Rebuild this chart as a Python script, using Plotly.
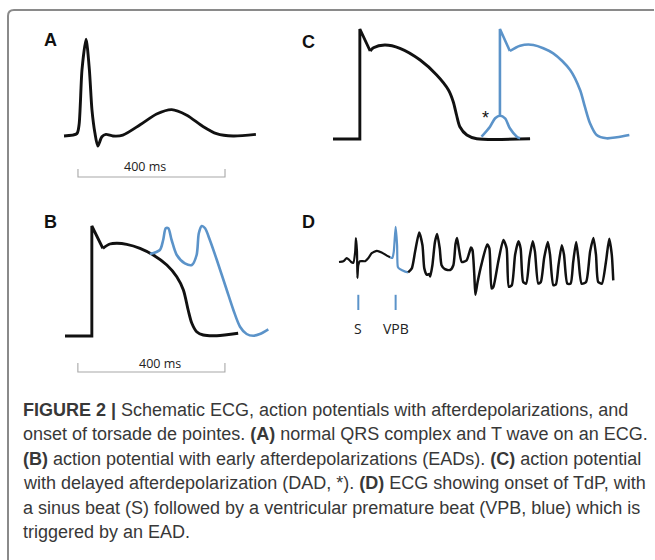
import plotly.graph_objects as go

W, H = 655, 560
BLACK = "#111111"
BLUE = "#5b93c9"
GRAY = "#a8a8a8"

# ---------------- Panel A: ECG (ms, mV) ----------------
a_t = [0, 35, 41, 49, 60, 69, 76, 84, 92, 103, 114, 133, 160, 207, 252, 293, 334, 378, 415, 460, 522]
a_v = [0, 0.03, 0.14, 0.83, 1.21, 0.83, 0.33, 0.04, -0.125, -0.01, 0.02, 0, 0.01, 0.14, 0.275, 0.33, 0.26, 0.12, 0.03, 0, 0.02]
a_bar_ms = [38, 438]

# ---------------- Panel B: AP with EADs (ms, mV) ----------------
b_up_t = [0, 73, 73, 103]
b_up_v = [-85, -85, 25, 2.7]
b_t = [103, 122, 141, 168, 204, 240, 277, 304, 322, 335, 345, 358, 376, 413, 471]
b_v = [2.7, 7, 7.7, 6.7, 2.7, -4, -14, -25.7, -39, -59, -72.3, -80.7, -84, -84.7, -82.3]
b_ead_t = [231, 258, 267, 274, 281, 290, 304, 326, 345, 358, 364, 372, 381, 394, 413, 440, 458, 476, 494, 512, 530, 553]
b_ead_v = [-3, 1, 11, 22.7, 22.7, 11, -4, -12.3, -14, -4, 17.7, 25, 22.7, 11, -9, -39, -59, -75.7, -83, -84.7, -83, -78.3]
b_bar_ms = [35, 435]

# ---------------- Panel C: AP with DAD (ms, mV) ----------------
c_up_t = [0, 73, 73, 101]
c_up_v = [-85, -85, 25, 3]
c_t = [101, 110, 141, 182, 237, 282, 314, 327, 336, 345, 364, 391, 536]
c_v = [3, 6.3, 9, 5.7, -6, -21, -36, -47.7, -61, -72.7, -81, -84.7, -84.7]
c_dad_t = [404, 427, 441, 454, 468, 481, 500, 509]
c_dad_v = [-82.7, -72.7, -64.3, -61.7, -64.3, -74.3, -82.7, -84.3]
c_trig_up_t = [454, 454, 481]
c_trig_up_v = [-61.7, 25, 3]
c_trig_t = [481, 509, 545, 599, 645, 672, 685, 699, 717, 744, 772, 806]
c_trig_v = [3, 8.3, 9, 0.7, -16, -36, -52.7, -69.3, -81, -84.3, -83.3, -81]
c_star = (416, -64)

# ---------------- Panel D: ECG onset of TdP (ms, mV) ----------------
d_sinus_t = [0, 12, 21, 27, 33, 39, 44, 46, 49, 50, 52.5, 57, 71, 80, 89, 103, 116, 130, 139]
d_sinus_v = [0, 0.01, 0.05, 0.03, 0, -0.01, 0.13, 0.3, 0.13, -0.2, -0.04, 0.01, 0.01, 0.05, 0.11, 0.14, 0.12, 0.08, 0.06]
d_vpb_t = [139, 145, 149, 154, 158, 160, 166, 180, 188]
d_vpb_v = [0.06, 0.05, 0.13, 0.44, 0.21, -0.06, -0.09, -0.12, -0.13]
d_tdp_t = [188, 198, 207, 218, 227, 232, 239, 245, 248, 254, 261, 267, 274, 279, 288, 302, 311, 317, 321,
           326, 334, 347, 354, 359, 363, 368, 371, 377, 388, 403, 409, 415, 420, 433, 447, 456, 462, 470,
           479, 488, 494, 501, 509, 518, 527, 533, 542, 549, 558, 568, 574, 583, 590, 597, 606, 612, 621,
           630, 637, 645, 651, 660, 672, 683, 692, 699, 705, 715, 726, 735, 742, 746]
d_tdp_v = [-0.13, -0.08, 0.13, 0.37, 0.21, -0.08, -0.16, -0.15, -0.18, -0.04, 0.25, 0.35, 0.17, -0.04, -0.09,
           -0.1, -0.04, 0.23, 0.3, 0.17, 0, 0.02, 0.11, 0.18, 0.15, -0.16, -0.41, -0.25, -0.02, 0.22, 0.17,
           -0.33, -0.31, 0, 0.275, 0.17, -0.31, -0.29, 0.09, 0.26, 0.17, -0.25, -0.27, 0.05, 0.26, 0.13,
           -0.27, -0.25, 0.05, 0.25, 0.09, -0.29, -0.28, -0.04, 0.21, 0.09, -0.27, -0.27, 0, 0.25, 0.05,
           -0.27, -0.25, 0.13, 0.3, 0.09, -0.25, -0.27, 0, 0.29, 0.09, -0.23]
d_marks_t = [52.5, 154]
d_marks_lbl = ["S", "VPB"]

panel_letters = ["A", "B", "C", "D"]

caption_lines = [
    "<b>FIGURE 2 |</b> Schematic ECG, action potentials with afterdepolarizations, and",
    "onset of torsade de pointes. <b>(A)</b> normal QRS complex and T wave on an ECG.",
    "<b>(B)</b> action potential with early afterdepolarizations (EADs). <b>(C)</b> action potential",
    "with delayed afterdepolarization (DAD, *). <b>(D)</b> ECG showing onset of TdP, with",
    "a sinus beat (S) followed by a ventricular premature beat (VPB, blue) which is",
    "triggered by an EAD.",
]


def px_x(p):
    return p / W


def px_y(p):
    return 1 - p / H


fig = go.Figure()

# axes: (suffix, x-domain px, x-range, y-domain px (top,bottom), y-range)
axes = {
    "A": ("", (30, 300), (-92.5, 642), (20, 200), (-0.8, 1.45)),
    "B": ("2", (30, 300), (-95.2, 639.2), (200, 390), (-139, 51)),
    "C": ("3", (310, 655), (-62.6, 875.8), (15, 190), (-136, 39)),
    "D": ("4", (310, 655), (-78.9, 859.5), (200, 350), (-1.1, 0.775)),
}
for key, (sfx, xd, xr, yd, yr) in axes.items():
    common = dict(visible=False, showgrid=False, zeroline=False, fixedrange=True)
    fig.layout["xaxis" + sfx] = dict(domain=[px_x(xd[0]), px_x(xd[1])], range=list(xr),
                                     anchor="y" + sfx, **common)
    fig.layout["yaxis" + sfx] = dict(domain=[px_y(yd[1]), px_y(yd[0])], range=list(yr),
                                     anchor="x" + sfx, **common)


def line(x, y, ax, color=BLACK, width=2.9, shape="spline", smoothing=0.8):
    sfx = axes[ax][0]
    fig.add_trace(go.Scatter(x=x, y=y, mode="lines", xaxis="x" + sfx, yaxis="y" + sfx,
                             line=dict(color=color, width=width, shape=shape, smoothing=smoothing),
                             hoverinfo="skip", showlegend=False))


def scale_bar(ax, t0t1, ybar, ytop):
    line([t0t1[0], t0t1[0], t0t1[1], t0t1[1]], [ytop, ybar, ybar, ytop], ax,
         color=GRAY, width=1.1, shape="linear")


LBL_FONT = dict(family="Open Sans", size=12.5, color="#222")

# Panel A
line(a_t, a_v, "A", smoothing=0.7)
scale_bar("A", a_bar_ms, -0.5125, -0.4125)
fig.add_annotation(x=220, y=-0.375, xref="x", yref="y", text="400 ms", showarrow=False, font=LBL_FONT)

# Panel B
line(b_up_t, b_up_v, "B", shape="linear")
line(b_t, b_v, "B")
line(b_ead_t, b_ead_v, "B", color=BLUE, width=2.6)
scale_bar("B", b_bar_ms, -121, -112)
fig.add_annotation(x=258, y=-112, xref="x2", yref="y2", text="400 ms", showarrow=False, font=LBL_FONT)

# Panel C
line(c_up_t, c_up_v, "C", shape="linear")
line(c_t, c_v, "C")
line(c_dad_t, c_dad_v, "C", color=BLUE, width=2.6)
line(c_trig_up_t, c_trig_up_v, "C", color=BLUE, width=2.6, shape="linear")
line(c_trig_t, c_trig_v, "C", color=BLUE, width=2.6)
fig.add_annotation(x=c_star[0], y=c_star[1], xref="x3", yref="y3", text="*", showarrow=False,
                   font=dict(family="Liberation Sans", size=18, color="#111"))

# Panel D
line(d_sinus_t, d_sinus_v, "D", width=2.2, smoothing=0.5)
line(d_vpb_t, d_vpb_v, "D", color=BLUE, width=2.2, smoothing=0.5)
line(d_tdp_t, d_tdp_v, "D", width=2.5, smoothing=0.6)
for t, lbl in zip(d_marks_t, d_marks_lbl):
    line([t, t], [-0.41, -0.6], "D", color=BLUE, width=2.0, shape="linear")
    fig.add_annotation(x=t, y=-0.825, xref="x4", yref="y4", text=lbl, showarrow=False,
                       font=dict(family="Open Sans", size=14, color="#222"))

# panel letters
for lbl, (xp, yp) in zip(panel_letters, [(50, 40), (50, 222), (308, 42), (308, 222)]):
    fig.add_annotation(x=px_x(xp), y=px_y(yp), xref="paper", yref="paper", text=f"<b>{lbl}</b>",
                       showarrow=False, xanchor="center", yanchor="middle",
                       font=dict(family="Liberation Sans", size=18, color="#111"))

# caption
for i, txt in enumerate(caption_lines):
    fig.add_annotation(x=px_x(21), y=px_y(409.5 + 24.5 * i), xref="paper", yref="paper", text=txt,
                       showarrow=False, xanchor="left", yanchor="middle", align="left",
                       font=dict(family="Liberation Sans", size=18, color="#383838"))

# frame
fig.add_shape(type="path", xref="paper", yref="paper",
              path=f"M {px_x(8)} {px_y(560)} L {px_x(8)} {px_y(16)} Q {px_x(8)} {px_y(10)} {px_x(14)} {px_y(10)} L {px_x(654)} {px_y(10)}",
              line=dict(color="#8a8a8a", width=2))

fig.update_layout(width=W, height=H, margin=dict(l=0, r=0, t=0, b=0), autosize=False,
                  paper_bgcolor="white", plot_bgcolor="white", showlegend=False)

fig.write_html("out.html", config={"displayModeBar": False},
               post_script="document.body.style.margin='0';document.body.style.overflow='hidden';")
